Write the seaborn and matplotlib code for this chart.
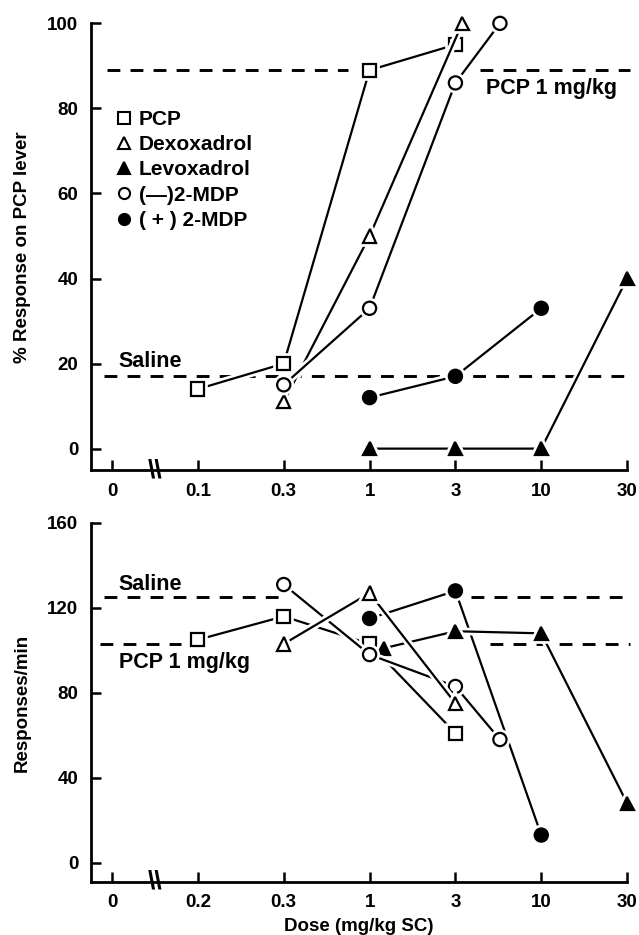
import numpy as np
import matplotlib
matplotlib.use("Agg")
import matplotlib.pyplot as plt
import matplotlib.patheffects as pe
from matplotlib.lines import Line2D
import seaborn as sns

# ---------------- data ----------------
series_names = ["PCP", "Dexoxadrol", "Levoxadrol", "(\u2014)2-MDP", "( + ) 2-MDP"]

# top panel: % response on PCP lever
top_tick_doses = [0.1, 0.3, 1, 3, 10, 30]
top_tick_labels = ["0", "0.1", "0.3", "1", "3", "10", "30"]
top_pcp_dose = [0.1, 0.3, 1, 3]
top_pcp_val = [14, 20, 89, 95]
top_dex_dose = [0.3, 1, 3.3]
top_dex_val = [11, 50, 100]
top_levo_dose = [1, 3, 10, 30]
top_levo_val = [0, 0, 0, 40]
top_mmdp_dose = [0.3, 1, 3, 5.6]
top_mmdp_val = [15, 33, 86, 100]
top_pmdp_dose = [1, 3, 10]
top_pmdp_val = [12, 17, 33]
top_saline = 17
top_pcp_ref = 89

# bottom panel: responses/min
bot_tick_doses = [0.2, 0.3, 1, 3, 10, 30]
bot_tick_labels = ["0", "0.2", "0.3", "1", "3", "10", "30"]
bot_pcp_dose = [0.2, 0.3, 1, 3]
bot_pcp_val = [105, 116, 103, 61]
bot_dex_dose = [0.3, 1, 3]
bot_dex_val = [103, 127, 75]
bot_levo_dose = [1.2, 3, 10, 30]
bot_levo_val = [101, 109, 108, 28]
bot_mmdp_dose = [0.3, 1, 3, 5.6]
bot_mmdp_val = [131, 98, 83, 58]
bot_pmdp_dose = [1, 3, 10]
bot_pmdp_val = [115, 128, 13]
bot_saline = 125
bot_pcp_ref = 103

# ---------------- style ----------------
sns.set_theme(style="white")
plt.rcParams["font.family"] = ["Liberation Sans", "DejaVu Sans"]
plt.rcParams["font.weight"] = "bold"
plt.rcParams["axes.labelweight"] = "bold"
plt.rcParams["text.color"] = "black"
plt.rcParams["axes.labelcolor"] = "black"
plt.rcParams["xtick.color"] = "black"
plt.rcParams["ytick.color"] = "black"

TICK_FS = 13.5
TEXT_FS = 15.5
LEG_FS = 15
LABEL_FS = 13.5

marker_style = {
    "PCP": dict(marker="s", markerfacecolor="white"),
    "Dexoxadrol": dict(marker="^", markerfacecolor="white"),
    "Levoxadrol": dict(marker="^", markerfacecolor="black"),
    "(\u2014)2-MDP": dict(marker="o", markerfacecolor="white"),
    "( + ) 2-MDP": dict(marker="o", markerfacecolor="black"),
}


def dose_pos(doses, anchors):
    # log-spaced category axis: anchors sit at positions 1..6, "0" at position 0
    return np.interp(np.log10(np.asarray(doses, float)),
                     np.log10(anchors), np.arange(1, len(anchors) + 1))


fig = plt.figure(figsize=(6.39, 9.35), dpi=100)
ax1 = fig.add_axes([0.1424, 0.497, 0.839, 0.478])
ax2 = fig.add_axes([0.1424, 0.0567, 0.839, 0.384])

gap_fx = [pe.Stroke(linewidth=5.5, foreground="white"), pe.Normal()]


def draw_series(ax, anchors, data, order):
    for name in order:
        d, v = data[name]
        sns.lineplot(x=dose_pos(d, anchors), y=v, ax=ax, color="black",
                     linewidth=1.6, markersize=9.5, markeredgecolor="black",
                     markeredgewidth=1.6, clip_on=False, legend=False,
                     path_effects=gap_fx, zorder=3, **marker_style[name])


def ref_line(ax, y, x0, x1):
    ax.plot([x0, x1], [y, y], color="black", linewidth=2.1,
            linestyle=(0, (4.4, 3.5)), clip_on=False, zorder=2)


def style_axes(ax, ylim, yticks, xlabels):
    ax.set_xlim(-0.245, 6.0)
    ax.set_ylim(*ylim)
    ax.set_yticks(yticks)
    ax.set_xticks(range(7))
    ax.set_xticklabels(xlabels)
    for s in ["top", "right"]:
        ax.spines[s].set_visible(False)
    for s in ["left", "bottom"]:
        ax.spines[s].set_linewidth(2.0)
        ax.spines[s].set_color("black")
    ax.tick_params(bottom=True, left=True, direction="in", length=7,
                   width=1.8, colors="black", labelcolor="black",
                   labelsize=TICK_FS, pad=9)
    for lab in ax.get_xticklabels() + ax.get_yticklabels():
        lab.set_fontweight("bold")
    ax.text(0.5, 0, "\\\\", transform=ax.get_xaxis_transform(), ha="center",
            va="center", fontsize=19, color="black", clip_on=False)


# ---------------- top panel ----------------
top_data = {
    "PCP": (top_pcp_dose, top_pcp_val),
    "Dexoxadrol": (top_dex_dose, top_dex_val),
    "Levoxadrol": (top_levo_dose, top_levo_val),
    "(\u2014)2-MDP": (top_mmdp_dose, top_mmdp_val),
    "( + ) 2-MDP": (top_pmdp_dose, top_pmdp_val),
}
ref_line(ax1, top_pcp_ref, -0.06, 2.75)
ref_line(ax1, top_pcp_ref, 4.29, 6.03)
ref_line(ax1, top_saline, -0.09, 6.03)
draw_series(ax1, top_tick_doses, top_data,
            ["PCP", "( + ) 2-MDP", "Levoxadrol", "Dexoxadrol", "(\u2014)2-MDP"])
style_axes(ax1, (-5.1, 100), [0, 20, 40, 60, 80, 100], top_tick_labels)
ax1.set_ylabel("% Response on PCP lever", fontsize=LABEL_FS,
               fontweight="bold", labelpad=12, color="black")
ax1.text(0.08, 20.5, "Saline", fontsize=TEXT_FS, fontweight="bold",
         va="center", ha="left", color="black")
ax1.text(4.36, 84.8, "PCP 1 mg/kg", fontsize=TEXT_FS, fontweight="bold",
         va="center", ha="left", color="black")

handles = [Line2D([], [], linestyle="none", color="black", markersize=8,
                  markeredgecolor="black", markeredgewidth=1.5,
                  **marker_style[n]) for n in series_names]
leg = ax1.legend(handles, series_names, loc="upper left",
                 bbox_to_anchor=(0.035, 0.825), frameon=False,
                 handlelength=0.6, handletextpad=0.4, labelspacing=0.3,
                 borderaxespad=0, prop={"size": LEG_FS, "weight": "bold"})
for t in leg.get_texts():
    t.set_color("black")

# ---------------- bottom panel ----------------
bot_data = {
    "PCP": (bot_pcp_dose, bot_pcp_val),
    "Dexoxadrol": (bot_dex_dose, bot_dex_val),
    "Levoxadrol": (bot_levo_dose, bot_levo_val),
    "(\u2014)2-MDP": (bot_mmdp_dose, bot_mmdp_val),
    "( + ) 2-MDP": (bot_pmdp_dose, bot_pmdp_val),
}
ref_line(ax2, bot_saline, -0.09, 1.99)
ref_line(ax2, bot_saline, 4.18, 6.03)
ref_line(ax2, bot_pcp_ref, -0.14, 0.8)
ref_line(ax2, bot_pcp_ref, 4.4, 6.03)
draw_series(ax2, bot_tick_doses, bot_data,
            ["PCP", "( + ) 2-MDP", "Levoxadrol", "(\u2014)2-MDP", "Dexoxadrol"])
style_axes(ax2, (-9.1, 160), [0, 40, 80, 120, 160], bot_tick_labels)
ax2.set_ylabel("Responses/min", fontsize=LABEL_FS, fontweight="bold",
               labelpad=12, color="black")
ax2.set_xlabel("Dose (mg/kg SC)", fontsize=LABEL_FS, fontweight="bold",
               labelpad=5, color="black")
ax2.text(0.08, 131, "Saline", fontsize=TEXT_FS, fontweight="bold",
         va="center", ha="left", color="black")
ax2.text(0.08, 94.4, "PCP 1 mg/kg", fontsize=TEXT_FS, fontweight="bold",
         va="center", ha="left", color="black")

fig.savefig("out.png", dpi=100, facecolor="white")
